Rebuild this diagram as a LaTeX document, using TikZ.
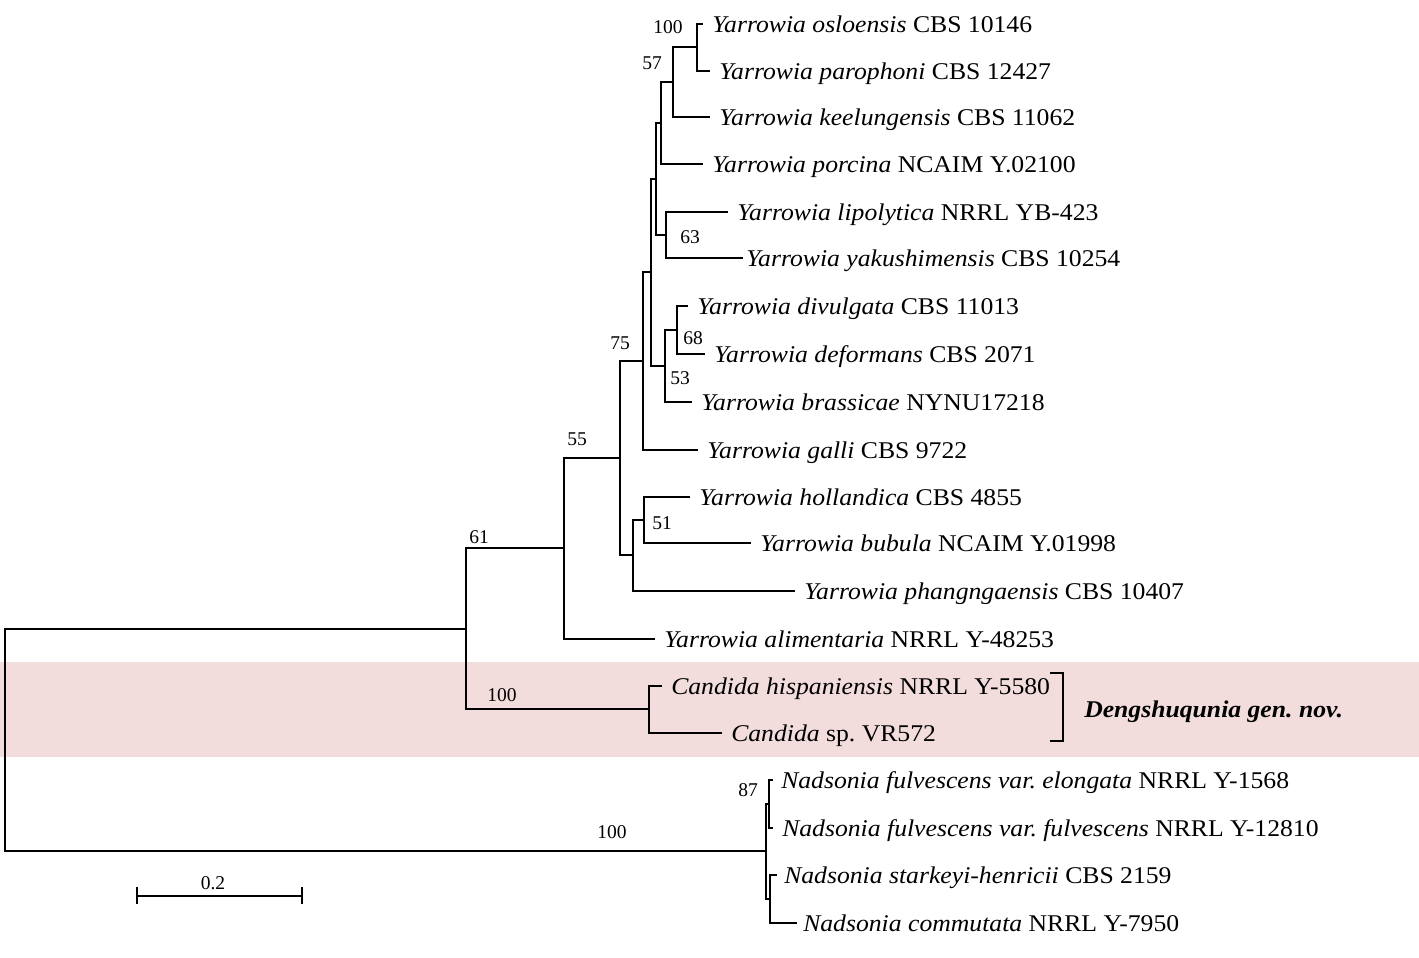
\documentclass[tikz,border=0pt]{standalone}
\usepackage{fontspec}
\setmainfont{Liberation Serif}[FakeStretch=1.07]
\newfontfamily\bootfont{Liberation Serif}
\definecolor{genband}{RGB}{242,220,220}
\newcommand{\tx}[2]{\textit{#1} #2}
\frenchspacing

\begin{document}
\begin{tikzpicture}[x=1pt, y=-1pt, line width=2.5pt,
    leaf/.style = {anchor=base west, inner sep=0pt, xshift=#1, yshift=-8.5pt, font=\fontsize{24}{28}\selectfont},
    leaf/.default = 8pt,
    boot/.style = {inner sep=0pt, font=\bootfont\fontsize{19.5}{22}\selectfont}]
    \useasboundingbox (0,0) rectangle (1419,958);
    \fill[genband] (0,662) rectangle (1419,757);

    % internal nodes
    \coordinate (root) at (5,740);
    \coordinate (n61) at (466,629);
    \coordinate (n55) at (564,548);
    \coordinate (n75) at (620,458);
    \coordinate (nbub) at (633,555);
    \coordinate (n51) at (644,520);
    \coordinate (ngal) at (643,361);
    \coordinate (nlip) at (651,272);
    \coordinate (npor) at (656,179);
    \coordinate (nkee) at (661,123);
    \coordinate (n57) at (673,82);
    \coordinate (nosl) at (697,47);
    \coordinate (n63) at (666,235);
    \coordinate (n53) at (665,366);
    \coordinate (n68) at (677,330);
    \coordinate (ncan) at (649,709);
    \coordinate (nnad) at (766,851);
    \coordinate (n87) at (769,804);
    \coordinate (ncom) at (770,899);

    % tips
    \coordinate (osl) at (703,24);
    \coordinate (par) at (710,71);
    \coordinate (kee) at (710,117);
    \coordinate (por) at (703,164);
    \coordinate (lip) at (728,212);
    \coordinate (yak) at (743,258);
    \coordinate (div) at (688,306);
    \coordinate (def) at (705,354);
    \coordinate (bra) at (692,402);
    \coordinate (gal) at (698,450);
    \coordinate (hol) at (690,497);
    \coordinate (bub) at (751,543);
    \coordinate (pha) at (795,591);
    \coordinate (ali) at (655,639);
    \coordinate (his) at (662,686);
    \coordinate (vr) at (722,733);
    \coordinate (elo) at (773,780);
    \coordinate (ful) at (773,828);
    \coordinate (sta) at (777,875);
    \coordinate (com) at (797,923);

    \draw (root) |- (n61) (root) |- (nnad);
    \draw (n61) |- (n55) (n61) |- (ncan);
    \draw (n55) |- (n75) (n55) |- (ali);
    \draw (n75) |- (ngal) (n75) |- (nbub);
    \draw (ngal) |- (nlip) (ngal) |- (gal);
    \draw (nlip) |- (npor) (nlip) |- (n53);
    \draw (npor) |- (nkee) (npor) |- (n63);
    \draw (nkee) |- (n57) (nkee) |- (por);
    \draw (n57) |- (nosl) (n57) |- (kee);
    \draw (nosl) |- (osl) (nosl) |- (par);
    \draw (n63) |- (lip) (n63) |- (yak);
    \draw (n53) |- (n68) (n53) |- (bra);
    \draw (n68) |- (div) (n68) |- (def);
    \draw (nbub) |- (n51) (nbub) |- (pha);
    \draw (n51) |- (hol) (n51) |- (bub);
    \draw (ncan) |- (his) (ncan) |- (vr);
    \draw (nnad) |- (n87) (nnad) |- (ncom);
    \draw (n87) |- (elo) (n87) |- (ful);
    \draw (ncom) |- (sta) (ncom) |- (com);

    \node[leaf] at (osl) {\tx{Yarrowia osloensis}{CBS 10146}};
    \node[leaf] at (par) {\tx{Yarrowia parophoni}{CBS 12427}};
    \node[leaf] at (kee) {\tx{Yarrowia keelungensis}{CBS 11062}};
    \node[leaf] at (por) {\tx{Yarrowia porcina}{NCAIM Y.02100}};
    \node[leaf] at (lip) {\tx{Yarrowia lipolytica}{NRRL YB-423}};
    \node[leaf=2pt] at (yak) {\tx{Yarrowia yakushimensis}{CBS 10254}};
    \node[leaf] at (div) {\tx{Yarrowia divulgata}{CBS 11013}};
    \node[leaf] at (def) {\tx{Yarrowia deformans}{CBS 2071}};
    \node[leaf] at (bra) {\tx{Yarrowia brassicae}{NYNU17218}};
    \node[leaf] at (gal) {\tx{Yarrowia galli}{CBS 9722}};
    \node[leaf] at (hol) {\tx{Yarrowia hollandica}{CBS 4855}};
    \node[leaf] at (bub) {\tx{Yarrowia bubula}{NCAIM Y.01998}};
    \node[leaf] at (pha) {\tx{Yarrowia phangngaensis}{CBS 10407}};
    \node[leaf] at (ali) {\tx{Yarrowia alimentaria}{NRRL Y-48253}};
    \node[leaf] at (his) {\tx{Candida hispaniensis}{NRRL Y-5580}};
    \node[leaf] at (vr) {\tx{Candida}{sp. VR572}};
    \node[leaf=7pt] at (elo) {\tx{Nadsonia fulvescens var. elongata}{NRRL Y-1568}};
    \node[leaf] at (ful) {\tx{Nadsonia fulvescens var. fulvescens}{NRRL Y-12810}};
    \node[leaf=6pt] at (sta) {\tx{Nadsonia starkeyi-henricii}{CBS 2159}};
    \node[leaf=5pt] at (com) {\tx{Nadsonia commutata}{NRRL Y-7950}};

    \node[boot] at (668,27) {100};
    \node[boot] at (652,63) {57};
    \node[boot] at (690,237) {63};
    \node[boot] at (693,338) {68};
    \node[boot] at (680,378) {53};
    \node[boot] at (620,343) {75};
    \node[boot] at (577,439) {55};
    \node[boot] at (662,523) {51};
    \node[boot] at (479,537) {61};
    \node[boot] at (502,695) {100};
    \node[boot] at (748,790) {87};
    \node[boot] at (612,832) {100};

    \coordinate (brt) at (1063,673);
    \coordinate (brb) at (1063,741);
    \draw ([xshift=-13pt]brt) -- (brt) -- (brb) -- ([xshift=-13pt]brb);
    \node[anchor=base west, inner sep=0pt, font=\fontsize{24}{28}\selectfont\bfseries\itshape] (gen) at (1083,717) {Dengshuqunia gen. nov.};

    \coordinate (sbl) at (137,896);
    \coordinate (sbr) at (302,896);
    \draw (sbl) -- (sbr);
    \draw ([yshift=9pt]sbl) -- ([yshift=-8pt]sbl) ([yshift=9pt]sbr) -- ([yshift=-8pt]sbr);
    \node[boot] at (213,883) {0.2};
\end{tikzpicture}
\end{document}
